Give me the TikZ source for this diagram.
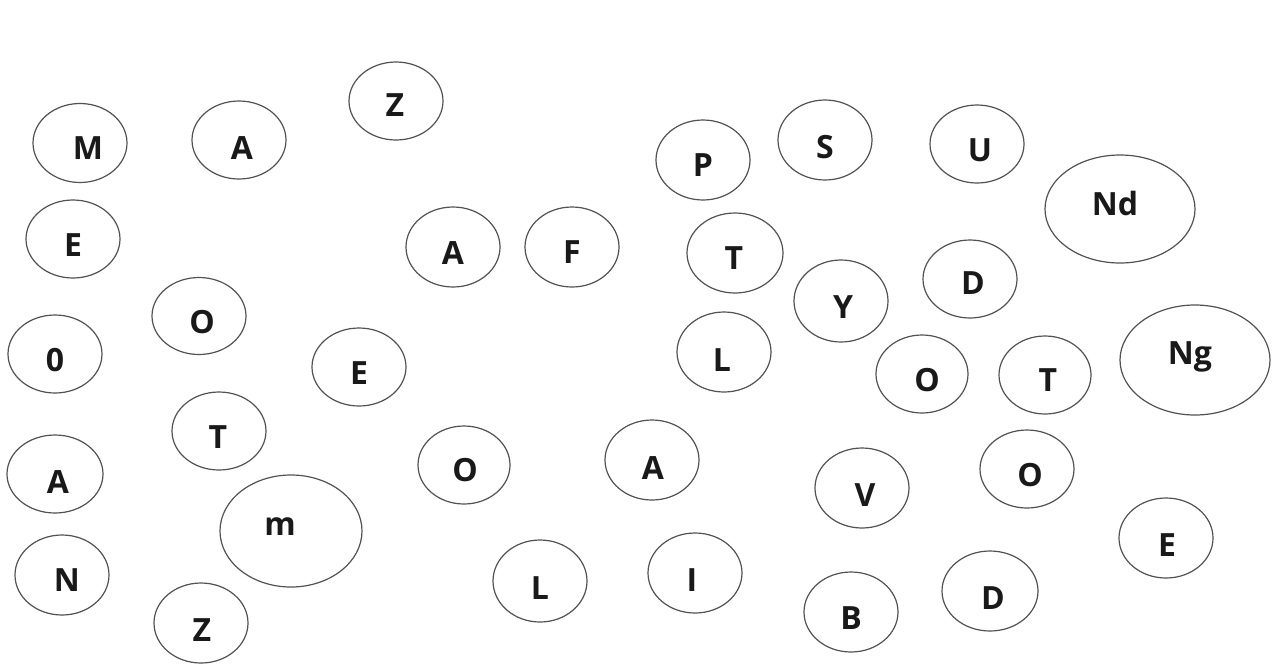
\documentclass[tikz,border=0pt]{standalone}
\usepackage{fontspec}
\setmainfont{Open Sans}
\usetikzlibrary{shapes.geometric}
\begin{document}
\begin{tikzpicture}[x=1pt,y=-1pt,
  bub/.style 2 args={ellipse, draw=black!68, line width=1.2pt, inner sep=0pt,
    minimum width=#1pt, minimum height=#2pt},
  lab/.style={inner sep=0pt, font=\fontsize{32}{38}\selectfont\bfseries, text=black!90}]
\useasboundingbox[fill=white] (0,0) rectangle (1277,670);
% top rows
\node[bub={94}{79}, label={[lab,xshift=8pt,yshift=-5pt]center:M}] (n1) at (80,143) {};
\node[bub={94}{78}, label={[lab,xshift=3pt,yshift=-8pt]center:A}] (n2) at (239,140) {};
\node[bub={94}{78}, label={[lab,xshift=-1pt,yshift=-4pt]center:Z}] (n3) at (396,101) {};
\node[bub={94}{80}, label={[lab,yshift=-5pt]center:P}] (n4) at (703,160) {};
\node[bub={94}{80}, label={[lab,yshift=-7pt]center:S}] (n5) at (825,140) {};
\node[bub={94}{78}, label={[lab,xshift=3pt,yshift=-6pt]center:U}] (n6) at (977,144) {};
\node[bub={150}{108}, label={[lab,xshift=-5pt,yshift=6pt]center:Nd}] (n7) at (1120,209) {};
\node[bub={94}{78}, label={[lab,yshift=-6pt]center:E}] (n8) at (73,239) {};
\node[bub={94}{80}, label={[lab,yshift=-6pt]center:A}] (n9) at (453,247) {};
\node[bub={94}{80}, label={[lab,yshift=-5pt]center:F}] (n10) at (572,247) {};
\node[bub={96}{80}, label={[lab,xshift=-1pt,yshift=-5pt]center:T}] (n11) at (735,253) {};
\node[bub={94}{78}, label={[lab,xshift=3pt,yshift=-4pt]center:D}] (n12) at (970,279) {};
\node[bub={94}{82}, label={[lab,xshift=2pt,yshift=-6pt]center:Y}] (n13) at (841,301) {};
\node[bub={94}{77}, label={[lab,xshift=3pt,yshift=-6pt]center:O}] (n14) at (199,316) {};
\node[bub={94}{78}, label={[lab,yshift=-6pt]center:0}] (n15) at (55,354) {};
\node[bub={94}{78}, label={[lab,yshift=-6pt]center:E}] (n16) at (359,367) {};
\node[bub={94}{80}, label={[lab,xshift=-2pt,yshift=-8pt]center:L}] (n17) at (724,352) {};
\node[bub={92}{78}, label={[lab,xshift=5pt,yshift=-6pt]center:O}] (n18) at (922,374) {};
\node[bub={92}{78}, label={[lab,xshift=3pt,yshift=-5pt]center:T}] (n19) at (1045,375) {};
\node[bub={150}{110}, label={[lab,xshift=-5pt,yshift=3pt]center:Ng}] (n20) at (1195,360) {};
% lower rows
\node[bub={94}{78}, label={[lab,xshift=-1pt,yshift=-6pt]center:T}] (n21) at (219,431) {};
\node[bub={96}{78}, label={[lab,xshift=3pt,yshift=-8pt]center:A}] (n22) at (55,474) {};
\node[bub={92}{78}, label={[lab,xshift=1pt,yshift=-5pt]center:O}] (n23) at (464,465) {};
\node[bub={94}{80}, label={[lab,xshift=1pt,yshift=-8pt]center:A}] (n24) at (652,460) {};
\node[bub={94}{80}, label={[lab,xshift=3pt,yshift=-7pt]center:V}] (n25) at (862,488) {};
\node[bub={94}{78}, label={[lab,xshift=3pt,yshift=-6pt]center:O}] (n26) at (1027,469) {};
\node[bub={142}{112}, label={[lab,xshift=-11pt,yshift=4pt]center:m}] (n27) at (291,531) {};
\node[bub={94}{80}, label={[lab,xshift=1pt,yshift=-7pt]center:E}] (n28) at (1166,538) {};
\node[bub={94}{80}, label={[lab,xshift=5pt,yshift=-5pt]center:N}] (n29) at (62,575) {};
\node[bub={94}{82}, label={[lab,yshift=-7pt]center:L}] (n30) at (540,581) {};
\node[bub={94}{80}, label={[lab,xshift=-3pt,yshift=-7pt]center:I}] (n31) at (695,573) {};
\node[bub={96}{80}, label={[lab,xshift=3pt,yshift=-7pt]center:D}] (n32) at (990,591) {};
\node[bub={94}{80}, label={[lab,yshift=-6pt]center:B}] (n33) at (851,612) {};
\node[bub={94}{80}, label={[lab,xshift=1pt,yshift=-7pt]center:Z}] (n34) at (201,623) {};
\end{tikzpicture}
\end{document}
